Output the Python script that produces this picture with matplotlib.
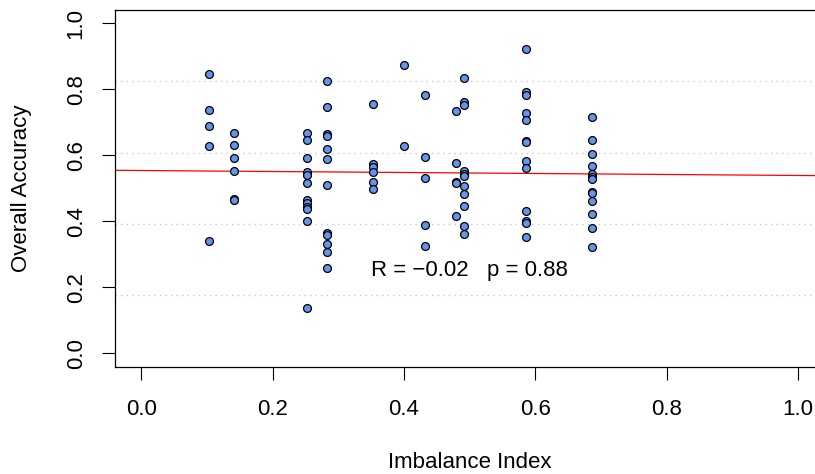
import numpy as np
import matplotlib
matplotlib.use("Agg")
import matplotlib.pyplot as plt

plt.rcParams["font.family"] = ["Liberation Sans", "DejaVu Sans"]

# Imbalance index per group and the accuracies observed at each
imbalance_levels = [0.1025, 0.1406, 0.253, 0.2823, 0.3535, 0.400, 0.4327, 0.479, 0.492, 0.586, 0.686]
acc_0 = [0.845, 0.736, 0.689, 0.628, 0.341]
acc_1 = [0.668, 0.631, 0.591, 0.554, 0.468, 0.464]
acc_2 = [0.668, 0.646, 0.593, 0.548, 0.541, 0.517, 0.465, 0.456, 0.445, 0.436, 0.400, 0.137]
acc_3 = [0.825, 0.747, 0.666, 0.658, 0.618, 0.588, 0.510, 0.364, 0.360, 0.330, 0.308, 0.259]
acc_4 = [0.755, 0.575, 0.565, 0.550, 0.518, 0.497]
acc_5 = [0.873, 0.628]
acc_6 = [0.783, 0.595, 0.532, 0.388, 0.326]
acc_7 = [0.734, 0.578, 0.519, 0.516, 0.416]
acc_8 = [0.835, 0.760, 0.752, 0.552, 0.544, 0.538, 0.506, 0.484, 0.448, 0.386, 0.363]
acc_9 = [0.922, 0.791, 0.782, 0.729, 0.708, 0.643, 0.639, 0.584, 0.562, 0.432, 0.402, 0.395, 0.352]
acc_10 = [0.716, 0.645, 0.603, 0.569, 0.542, 0.535, 0.529, 0.490, 0.486, 0.463, 0.422, 0.380, 0.321]
accuracy_groups = [acc_0, acc_1, acc_2, acc_3, acc_4, acc_5, acc_6, acc_7, acc_8, acc_9, acc_10]

tick_values = [0.0, 0.2, 0.4, 0.6, 0.8, 1.0]
tick_labels = ["0.0", "0.2", "0.4", "0.6", "0.8", "1.0"]

# linear fit coefficients and correlation summary
fit_intercept = 0.554
fit_slope = -0.015
r_value = -0.02
p_value = 0.88

x = np.concatenate([[lv] * len(g) for lv, g in zip(imbalance_levels, accuracy_groups)])
y = np.concatenate(accuracy_groups)

W, H = 815, 474
fig = plt.figure(figsize=(W / 100, H / 100), dpi=100)
left, right, top, bottom = 115, 824.3, 10, 366.7
ax = fig.add_axes([left / W, 1 - bottom / H, (right - left) / W, (bottom - top) / H])

xlo, xhi = -0.04, 1.04
ylo, yhi = -0.04, 1.04
ax.set_xlim(xlo, xhi)
ax.set_ylim(ylo, yhi)

# horizontal dotted grid splitting the plot region into five bands
for gy in np.linspace(ylo, yhi, 6)[1:-1]:
    ax.axhline(gy, color="#C8C8C8", linestyle=(0, (1, 3)), linewidth=1.0, zorder=1)

ax.axline((0, fit_intercept), slope=fit_slope, color="red", linewidth=0.9, zorder=2)

ax.scatter(x, y, s=32, facecolor="#6495ED", edgecolor="black", linewidth=0.9, zorder=3)

ax.text(0.5, 0.25, f"R = \u2212{abs(r_value):.2f}   p = {p_value:.2f}",
        ha="center", va="center", fontsize=16, color="black", zorder=4)

fs = 16
ax.set_xticks(tick_values)
ax.set_xticklabels(tick_labels)
ax.set_yticks(tick_values)
ax.set_yticklabels(tick_labels, rotation=90, va="center")
ax.tick_params(axis="both", direction="out", length=9.4, width=0.8, labelsize=fs, color="black")
ax.tick_params(axis="x", pad=14)
ax.tick_params(axis="y", pad=11)

for sp in ax.spines.values():
    sp.set_linewidth(0.9)
    sp.set_color("black")

fig.text((left + right) / 2 / W, 1 - 462 / H, "Imbalance Index", ha="center", va="center", fontsize=fs)
fig.text(22 / W, 1 - ((top + bottom) / 2) / H, "Overall Accuracy", ha="center", va="center",
         rotation=90, fontsize=fs)

fig.savefig("out.png", dpi=100)
